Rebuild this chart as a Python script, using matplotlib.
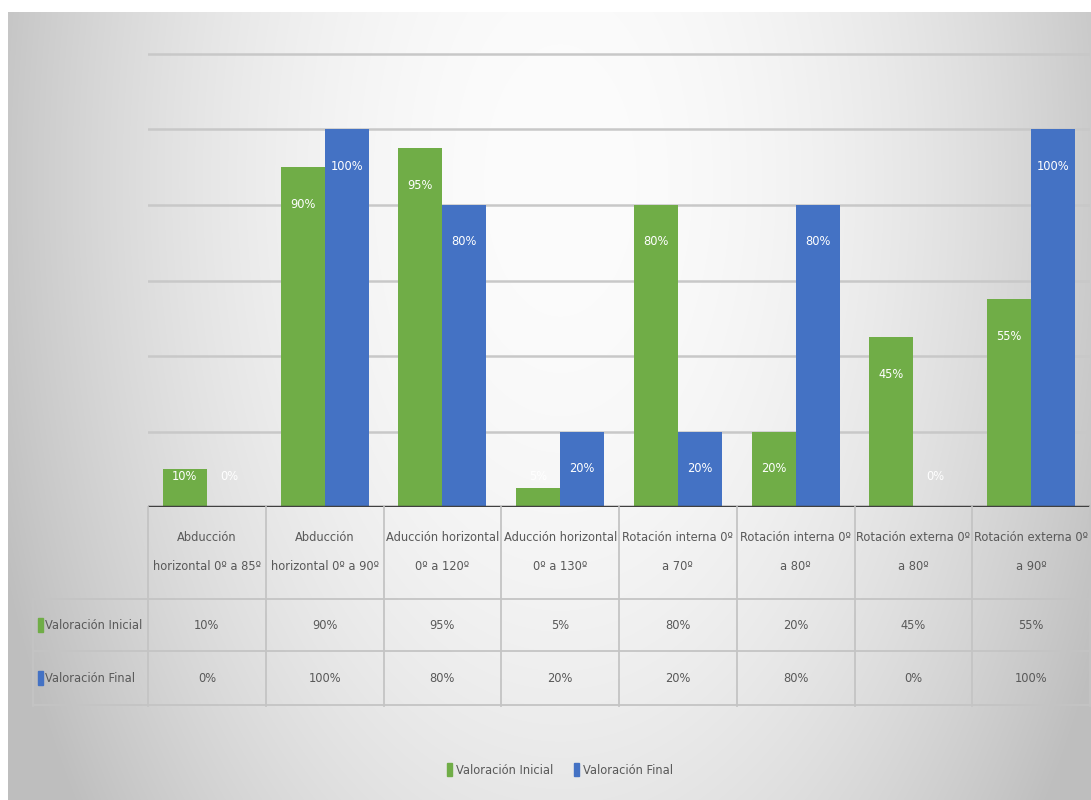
import numpy as np
import matplotlib
matplotlib.use('Agg')
import matplotlib.pyplot as plt
from matplotlib.patches import Rectangle
from matplotlib import font_manager as fm
from matplotlib.font_manager import FontProperties

categories = [
    "Abducción\nhorizontal 0º a 85º",
    "Abducción\nhorizontal 0º a 90º",
    "Aducción horizontal\n0º a 120º",
    "Aducción horizontal\n0º a 130º",
    "Rotación interna 0º\na 70º",
    "Rotación interna 0º\na 80º",
    "Rotación externa 0º\na 80º",
    "Rotación externa 0º\na 90º",
]
series_names = ["Valoración Inicial", "Valoración Final"]
valoracion_inicial = [10, 90, 95, 5, 80, 20, 45, 55]
valoracion_final = [0, 100, 80, 20, 20, 80, 0, 100]
y_ticks = [0, 20, 40, 60, 80, 100, 120]

GREEN = '#70AD47'
BLUE = '#4472C4'
TXT = '#595959'
LINE = '#c4c4c4'

# pick a condensed / narrow font if one is installed
_rank = {'ultra-condensed': 3, 'extra-condensed': 2, 'condensed': 0, 'semi-condensed': 1}
cands = []
for f in fm.fontManager.ttflist:
    st = f.stretch
    if isinstance(st, (int, float)):
        r = 0 if st <= 300 else (1 if st < 500 else None)
    else:
        r = _rank.get(st)
    if r is None and ('Narrow' in f.name or 'Condensed' in f.name):
        r = 0
    w = f.weight
    if r is not None and f.style == 'normal' and w in (400, 'normal', 'regular', 'book'):
        if 'Mono' not in f.name and 'Serif' not in f.name:
            cands.append((r, f.fname))
cands.sort()
if cands:
    FP = FontProperties(fname=cands[0][1])
else:
    FP = FontProperties(family=['Roboto', 'DejaVu Sans'])

W, H = 1091, 800
fig = plt.figure(figsize=(W / 100, H / 100), dpi=100)

# background gradient
bg = fig.add_axes([0, 0, 1, 1])
yy, xx = np.mgrid[0:H, 0:W]
d2 = ((xx - 560) / 560.0) ** 2 + ((yy - 180) / 1000.0) ** 2
val = np.clip(252 - 54 * d2, 190, 252) / 255.0
img = np.dstack([val, val, val])
img[:12, :] = 1.0
img[:, :8] = 1.0
bg.imshow(img, aspect='auto', interpolation='bilinear')
bg.set_xlim(-0.5, W - 0.5)
bg.set_ylim(H - 0.5, -0.5)
bg.axis('off')


def fx(px):
    return px / W


def fy(py):
    return 1 - py / H


L, R = 148, 1090
B0 = 507
pxu = 453 / 120.0
T0 = 40
ytop = (B0 - T0) / pxu

ax = fig.add_axes([fx(L), fy(B0), fx(R) - fx(L), fy(T0) - fy(B0)])
ax.patch.set_alpha(0)
x = np.arange(len(categories))
bw = 0.374
ax.bar(x - bw, valoracion_inicial, bw, align='edge', color=GREEN, zorder=2)
ax.bar(x, valoracion_final, bw, align='edge', color=BLUE, zorder=2)
ax.set_xlim(-0.5, len(categories) - 0.5)
ax.set_ylim(0, ytop)
ax.set_yticks(y_ticks)
ax.grid(axis='y', color='#c8c8c8', lw=1.8)
ax.set_axisbelow(True)
ax.tick_params(left=False, bottom=False, labelleft=False, labelbottom=False)
for s in ax.spines.values():
    s.set_visible(False)
ax.axhline(0, color='#404040', lw=2.5, zorder=3)

bar_texts = []
for xs, vals in ((x - bw / 2, valoracion_inicial), (x + bw / 2, valoracion_final)):
    for xi, v in zip(xs, vals):
        bar_texts.append(ax.text(xi, max(v - 9.8, 8), f"{v}%", ha='center', va='center',
                                 color='white', fontproperties=FP, fontsize=10, zorder=4))

# data table
tax = fig.add_axes([fx(L), fy(706), fx(R) - fx(L), fy(B0) - fy(706)])
tax.patch.set_alpha(0)
tax.set_xlim(-0.5, len(categories) - 0.5)
tax.set_ylim(706, B0)
tax.axis('off')
xl = (33 - L) / ((R - L) / len(categories)) - 0.5
for yl in (599, 651, 705):
    tax.plot([xl, len(categories) - 0.5], [yl, yl], color=LINE, lw=1.3, clip_on=False)
for xv in np.arange(len(categories) + 1) - 0.5:
    tax.plot([xv, xv], [B0, 706], color=LINE, lw=1.3, clip_on=False)
tax.plot([xl, xl], [599, 706], color=LINE, lw=1.3, clip_on=False)

table_texts = []
cat_texts = []
for i, c in enumerate(categories):
    t = tax.text(i, 552, c, ha='center', va='center', color=TXT, fontproperties=FP,
                 fontsize=10, linespacing=2.6, clip_on=False)
    cat_texts.append(t)
    table_texts.append(t)
for row_y, vals in ((625, valoracion_inicial), (678, valoracion_final)):
    for i, v in enumerate(vals):
        table_texts.append(tax.text(i, row_y, f"{v}%", ha='center', va='center', color=TXT,
                                    fontproperties=FP, fontsize=10, clip_on=False))

upx = 1.0 / ((R - L) / len(categories))
for (row_y, name, col) in ((625, series_names[0], GREEN), (678, series_names[1], BLUE)):
    tax.add_patch(Rectangle((xl + 5 * upx, row_y - 7), 5 * upx, 14, color=col, clip_on=False))
    table_texts.append(tax.text(xl + 12 * upx, row_y, name, ha='left', va='center', color=TXT,
                                fontproperties=FP, fontsize=10, clip_on=False))

# fit font sizes to the reference text widths
renderer = fig.canvas.get_renderer()
wmax = max(t.get_window_extent(renderer).width for t in cat_texts)
table_size = 10 * 114.0 / wmax
for t in table_texts:
    t.set_fontsize(table_size)
w100 = max(t.get_window_extent(renderer).width for t in bar_texts)
bar_size = 10 * 33.0 / w100
for t in bar_texts:
    t.set_fontsize(bar_size)

handles = [Rectangle((0, 0), 1, 1, color=GREEN), Rectangle((0, 0), 1, 1, color=BLUE)]
legend_fp = FP.copy()
legend_fp.set_size(table_size)
fig.legend(handles, series_names, loc='center', bbox_to_anchor=(fx(560), fy(770)),
           ncol=2, frameon=False, prop=legend_fp, labelcolor=TXT,
           handlelength=0.4, handleheight=1.1, handletextpad=0.3, columnspacing=1.6)

fig.savefig('out.png', dpi=100)
